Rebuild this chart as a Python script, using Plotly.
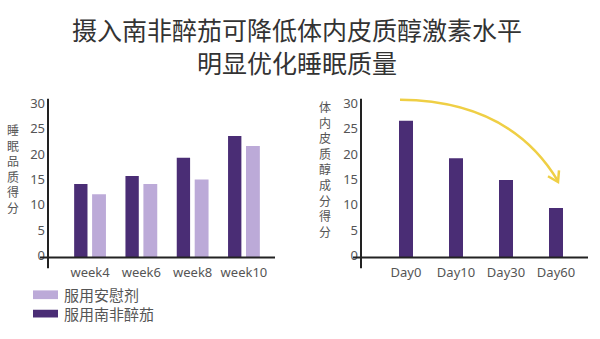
import plotly.graph_objects as go

W, H = 600, 339

# ---- data ----
weeks = ["week4", "week6", "week8", "week10"]
placebo = [12.5, 14.5, 15.4, 22.0]
ashwagandha = [14.5, 16.1, 19.7, 24.0]
days = ["Day0", "Day10", "Day30", "Day60"]
cortisol = [27.0, 19.6, 15.3, 9.8]
yticks = [0, 5, 10, 15, 20, 25, 30]

title_lines = ["摄入南非醉茄可降低体内皮质醇激素水平", "明显优化睡眠质量"]
ytitle_left = "睡眠品质得分"
ytitle_right = "体内皮质醇成分得分"
legend_placebo = "服用安慰剂"
legend_ashwa = "服用南非醉茄"

DARK = "#4A2D75"
LIGHT = "#BCAAD8"
YEL = "#EFCF45"
AX = "#222222"
TXT = "#555555"
CJK = "Noto Sans CJK SC"
LAT = "Noto Sans"


def px(x):
    return x / W


def py(y):
    return 1 - y / H


fig = go.Figure()
fig.add_bar(x=weeks, y=ashwagandha, marker_color=DARK, marker_line_width=0,
            width=0.26, offset=-0.31, xaxis="x", yaxis="y", name=legend_ashwa)
fig.add_bar(x=weeks, y=placebo, marker_color=LIGHT, marker_line_width=0,
            width=0.27, offset=0.04, xaxis="x", yaxis="y", name=legend_placebo)
fig.add_bar(x=days, y=cortisol, marker_color=DARK, marker_line_width=0,
            width=0.28, offset=-0.14, xaxis="x2", yaxis="y2", name="cortisol")

ydom = [py(262), py(98)]
yrng = [0, 31.34]
common_x = dict(range=[-0.5, 3.5], showline=False, showgrid=False, zeroline=False,
                ticks="", ticklabelstandoff=6,
                tickfont=dict(family=LAT, size=13, color=TXT), fixedrange=True)
common_y = dict(range=yrng, domain=ydom, showline=False, showgrid=False, zeroline=False,
                ticks="", tickvals=yticks, ticklabelshift=-2,
                tickfont=dict(family=LAT, size=13, color=TXT), anchor="free")

fig.update_layout(
    width=W, height=H, margin=dict(l=0, r=0, t=0, b=0),
    paper_bgcolor="white", plot_bgcolor="white", showlegend=False,
    barmode="overlay",
    xaxis=dict(domain=[px(64.4), px(269.6)], anchor="y", **common_x),
    yaxis=dict(position=px(45), **common_y),
    xaxis2=dict(domain=[px(381), px(581)], anchor="y2", **common_x),
    yaxis2=dict(position=px(358), **common_y),
)

shapes = []
# axis lines
for (x0, x1, yx) in [(40, 275, 48), (353, 588, 361)]:
    shapes.append(dict(type="line", xref="paper", yref="paper", x0=px(x0), x1=px(x1),
                       y0=py(262), y1=py(262), line=dict(color=AX, width=2)))
    shapes.append(dict(type="line", xref="paper", yref="paper", x0=px(yx), x1=px(yx),
                       y0=py(98), y1=py(273), line=dict(color=AX, width=2)))


def P(x, y):
    return f"{px(x):.5f},{py(y):.5f}"


# curved arrow
shapes.append(dict(type="path", xref="paper", yref="paper",
                   path=f"M {P(400, 99)} Q {P(510, 100)} {P(558, 183)}",
                   line=dict(color=YEL, width=2.5)))
shapes.append(dict(type="path", xref="paper", yref="paper",
                   path=f"M {P(548, 178)} L {P(558, 184)} L {P(559, 172)}",
                   line=dict(color=YEL, width=2.5)))

# legend swatches
shapes.append(dict(type="rect", xref="paper", yref="paper", x0=px(33), x1=px(58),
                   y0=py(305), y1=py(296), fillcolor=LIGHT, line=dict(width=0)))
shapes.append(dict(type="rect", xref="paper", yref="paper", x0=px(33), x1=px(58),
                   y0=py(324), y1=py(316), fillcolor=DARK, line=dict(width=0)))

annotations = [
    dict(text="<br>".join(title_lines), x=px(297), y=py(43), xref="paper", yref="paper",
         showarrow=False, font=dict(family=CJK, size=25, color="#333333"),
         xanchor="center", yanchor="middle", align="center"),
    dict(text="<br>".join(ytitle_left), x=px(13), y=py(170), xref="paper", yref="paper",
         showarrow=False, font=dict(family=CJK, size=12, color=TXT),
         xanchor="center", yanchor="middle"),
    dict(text="<br>".join(ytitle_right), x=px(325), y=py(171), xref="paper", yref="paper",
         showarrow=False, font=dict(family=CJK, size=12, color=TXT),
         xanchor="center", yanchor="middle"),
    dict(text=legend_placebo, x=px(62), y=py(300.5), xref="paper", yref="paper",
         showarrow=False, font=dict(family=CJK, size=15, color=TXT),
         xanchor="left", yanchor="middle"),
    dict(text=legend_ashwa, x=px(62), y=py(319.5), xref="paper", yref="paper",
         showarrow=False, font=dict(family=CJK, size=15, color=TXT),
         xanchor="left", yanchor="middle"),
]

fig.update_layout(shapes=shapes, annotations=annotations)
fig.write_html("out.html")
